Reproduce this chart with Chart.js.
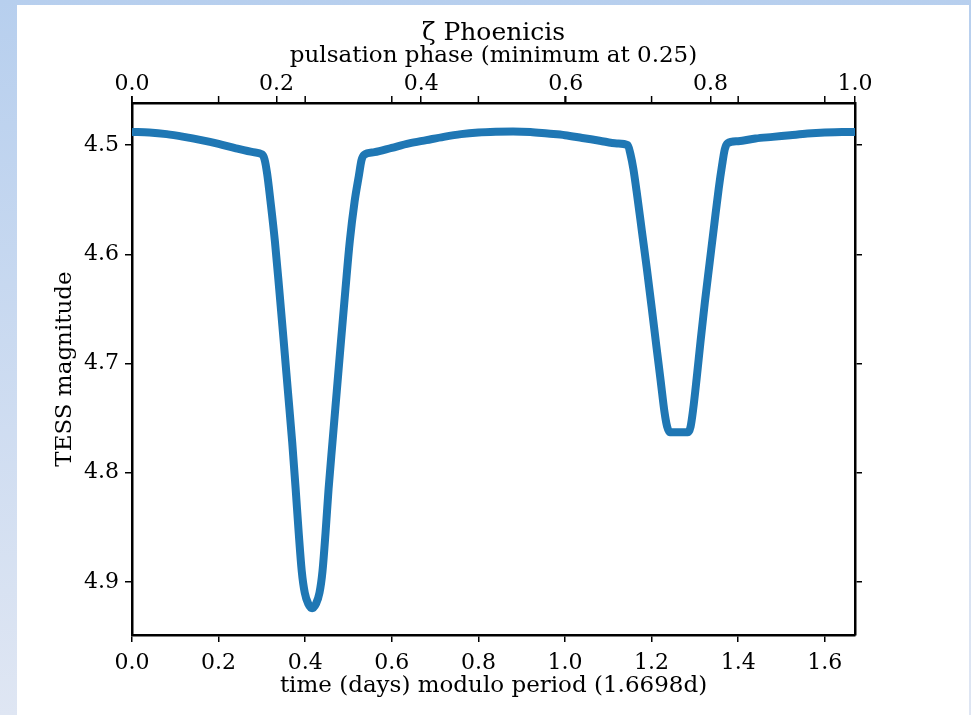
<!DOCTYPE html>
<html>
<head>
  <meta charset="UTF-8" />
  <title>zeta Phoenicis light curve</title>
  <script src="https://cdn.jsdelivr.net/npm/chart.js"></script>
  <style>
    html, body { margin: 0; padding: 0; }
    body { width: 971px; height: 715px; overflow: hidden; position: relative;
           background: linear-gradient(to bottom, #b7cfee 0%, #dfe6f3 100%); }
    #panel { position: absolute; left: 17px; top: 5px; width: 952px; height: 710px; background: #fff; }
    #wrap { position: absolute; left: 0; top: 0; width: 971px; height: 715px; }
  </style>
</head>
<body>
  <div id="panel"></div>
  <div id="wrap"><canvas id="chart" width="971" height="715"></canvas></div>
  <script>
    const period = 1.6698;
    // folded light curve, time in days modulo period
    const days = [0.000, 0.040, 0.080, 0.120, 0.160, 0.200, 0.240, 0.280, 0.300, 0.306, 0.312,
                  0.320, 0.330, 0.340, 0.350, 0.360, 0.370, 0.378, 0.385, 0.392, 0.399, 0.407,
                  0.416, 0.425, 0.433, 0.440, 0.447, 0.454, 0.463, 0.473, 0.483, 0.493, 0.503,
                  0.514, 0.524, 0.530, 0.536, 0.560, 0.600, 0.640, 0.680, 0.720, 0.760, 0.800,
                  0.840, 0.880, 0.920, 0.960, 1.000, 1.040, 1.080, 1.120, 1.145, 1.151, 1.158,
                  1.167, 1.178, 1.189, 1.200, 1.211, 1.221, 1.230, 1.236, 1.242, 1.262, 1.284,
                  1.290, 1.296, 1.304, 1.313, 1.323, 1.334, 1.345, 1.355, 1.363, 1.369, 1.375,
                  1.400, 1.440, 1.480, 1.520, 1.560, 1.600, 1.640, 1.6698];
    const mag = [4.4880, 4.4885, 4.4900, 4.4925, 4.4955, 4.4990, 4.5030, 4.5065, 4.5085, 4.5130, 4.5260,
                 4.5520, 4.5880, 4.6320, 4.6780, 4.7250, 4.7720, 4.8150, 4.8550, 4.8900, 4.9100, 4.9200,
                 4.9240, 4.9200, 4.9100, 4.8900, 4.8550, 4.8150, 4.7720, 4.7250, 4.6780, 4.6320, 4.5880,
                 4.5520, 4.5280, 4.5140, 4.5090, 4.5065, 4.5025, 4.4985, 4.4955, 4.4925, 4.4900, 4.4885,
                 4.4878, 4.4875, 4.4880, 4.4895, 4.4910, 4.4935, 4.4960, 4.4985, 4.5000, 4.5080, 4.5220,
                 4.5470, 4.5800, 4.6130, 4.6480, 4.6840, 4.7160, 4.7450, 4.7580, 4.7630, 4.7630, 4.7630,
                 4.7580, 4.7420, 4.7140, 4.6800, 4.6440, 4.6080, 4.5720, 4.5400, 4.5180, 4.5040, 4.4985,
                 4.4965, 4.4940, 4.4925, 4.4910, 4.4895, 4.4885, 4.4880, 4.4880];
    const dayTicks = [0.0, 0.2, 0.4, 0.6, 0.8, 1.0, 1.2, 1.4, 1.6];
    const phaseTicks = [0.0, 0.2, 0.4, 0.6, 0.8, 1.0];
    const magTicks = [4.5, 4.6, 4.7, 4.8, 4.9];
    const magMin = 4.4615, magMax = 4.9486;

    const serif = "'DejaVu Serif', serif";
    const tickFont = { family: serif, size: 22 };
    const labelFont = { family: serif, size: 23, lineHeight: 1 };
    const gridOpts = { display: true, drawOnChartArea: false, drawTicks: true, tickLength: 7,
                       color: '#000', lineWidth: 1.5 };
    const borderOpts = { display: true, color: '#000', width: 2.5 };
    const fixTicks = (vals) => (scale) => { scale.ticks = vals.map(v => ({ value: v })); };

    // extra unlabeled day ticks on the top edge
    const topDayTicks = {
      id: 'topDayTicks',
      afterDraw(chart) {
        const { ctx, chartArea, scales } = chart;
        ctx.save();
        ctx.strokeStyle = '#000';
        ctx.lineWidth = 1.5;
        dayTicks.forEach(v => {
          const px = scales.x.getPixelForValue(v);
          ctx.beginPath();
          ctx.moveTo(px, chartArea.top);
          ctx.lineTo(px, chartArea.top - 7);
          ctx.stroke();
        });
        ctx.restore();
      }
    };

    new Chart(document.getElementById('chart').getContext('2d'), {
      type: 'line',
      data: {
        datasets: [{
          data: days.map((d, i) => ({ x: d, y: mag[i] })),
          borderColor: '#1f77b4',
          borderWidth: 8,
          pointRadius: 0,
          cubicInterpolationMode: 'monotone',
          borderJoinStyle: 'round',
          clip: 0,
          xAxisID: 'x',
          yAxisID: 'y'
        }]
      },
      options: {
        responsive: false,
        animation: false,
        events: [],
        layout: { padding: 0 },
        plugins: {
          legend: { display: false },
          tooltip: { enabled: false },
          title: {
            display: true,
            fullSize: false,
            text: 'ζ Phoenicis',
            color: '#000',
            font: { family: serif, size: 25, weight: 'normal', lineHeight: 1 },
            padding: { top: 21, bottom: 0 }
          }
        },
        scales: {
          x: {
            type: 'linear', position: 'bottom', min: 0, max: period,
            afterBuildTicks: fixTicks(dayTicks),
            afterFit: (s) => { s.height = 80; },
            grid: gridOpts, border: borderOpts,
            ticks: { color: '#000', font: tickFont, padding: 8, autoSkip: false, maxRotation: 0,
                     callback: v => v.toFixed(1) },
            title: { display: true, text: 'time (days) modulo period (1.6698d)', color: '#000',
                     font: labelFont, padding: { top: 0, bottom: 17 } }
          },
          x2: {
            type: 'linear', position: 'top', min: 0, max: 1,
            afterBuildTicks: fixTicks(phaseTicks),
            afterFit: (s) => { s.height = 57; },
            grid: gridOpts, border: borderOpts,
            ticks: { color: '#000', font: tickFont, padding: -1, autoSkip: false, maxRotation: 0,
                     callback: v => v.toFixed(1) },
            title: { display: true, text: 'pulsation phase (minimum at 0.25)', color: '#000',
                     font: labelFont, padding: { top: -1, bottom: 0 } }
          },
          y: {
            type: 'linear', position: 'left', reverse: true, min: magMin, max: magMax,
            afterBuildTicks: fixTicks(magTicks),
            afterFit: (s) => { s.width = 132; },
            grid: gridOpts, border: borderOpts,
            ticks: { color: '#000', font: tickFont, padding: 6, callback: v => v.toFixed(1) },
            title: { display: true, text: 'TESS magnitude', color: '#000',
                     font: labelFont, padding: { top: 54, bottom: 0 } }
          },
          y2: {
            type: 'linear', position: 'right', reverse: true, min: magMin, max: magMax,
            afterBuildTicks: fixTicks(magTicks),
            afterFit: (s) => { s.width = 116; },
            grid: gridOpts, border: borderOpts,
            ticks: { display: false }
          }
        }
      },
      plugins: [topDayTicks]
    });
  </script>
</body>
</html>
